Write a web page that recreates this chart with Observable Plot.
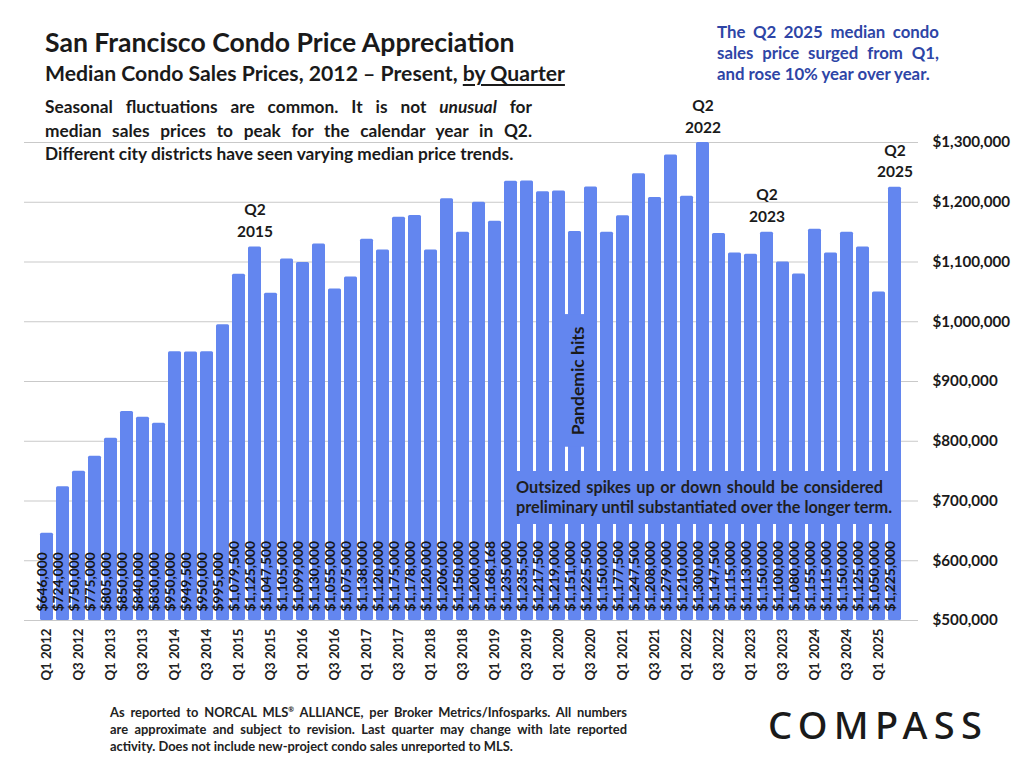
<!DOCTYPE html>
<html><head><meta charset="utf-8">
<script src="https://cdn.jsdelivr.net/npm/d3@7"></script>
<script src="https://cdn.jsdelivr.net/npm/@observablehq/plot@0.6"></script>
<style>
body{margin:0;background:#fff;font-family:Lato,"Open Sans",sans-serif;}
#wrap{position:relative;width:1024px;height:768px;overflow:hidden;background:#fff}
#wrap svg{position:absolute;left:0;top:0}
.abs{position:absolute;color:#1a1a1a;white-space:nowrap}
.jl{display:block;text-align:justify;text-align-last:justify}
.ll{display:block;text-align:left;white-space:nowrap}
#title{left:45px;top:26px;font-size:26.6px;font-weight:700}
#subtitle{left:45px;top:60px;font-size:21.2px;font-weight:700}
#subtitle u{text-decoration-thickness:1.5px;text-underline-offset:3px}
#para{left:45px;top:95px;width:487px;font-size:17.3px;font-weight:700;line-height:23.5px;white-space:normal}
#blue{left:717px;top:21px;width:222px;font-size:16.8px;font-weight:700;line-height:21px;color:#2e45a6;white-space:normal}
#foot{left:110px;top:701px;width:517px;font-size:12.9px;font-weight:700;line-height:17px;color:#222;white-space:normal}
#logo{left:768px;top:698px;font-size:38px;font-weight:500;letter-spacing:6.3px;color:#1a1a1a;font-family:"Noto Sans",Lato,sans-serif}
#spike{font-size:16.3px;font-weight:700;line-height:20px;color:#1f1f1f;box-sizing:border-box;padding:6px 18px 0 12px;white-space:normal}
</style></head><body><div id="wrap"></div><script>
const quarters = [
 "Q1 2012","Q2 2012","Q3 2012","Q4 2012","Q1 2013","Q2 2013","Q3 2013","Q4 2013",
 "Q1 2014","Q2 2014","Q3 2014","Q4 2014","Q1 2015","Q2 2015","Q3 2015","Q4 2015",
 "Q1 2016","Q2 2016","Q3 2016","Q4 2016","Q1 2017","Q2 2017","Q3 2017","Q4 2017",
 "Q1 2018","Q2 2018","Q3 2018","Q4 2018","Q1 2019","Q2 2019","Q3 2019","Q4 2019",
 "Q1 2020","Q2 2020","Q3 2020","Q4 2020","Q1 2021","Q2 2021","Q3 2021","Q4 2021",
 "Q1 2022","Q2 2022","Q3 2022","Q4 2022","Q1 2023","Q2 2023","Q3 2023","Q4 2023",
 "Q1 2024","Q2 2024","Q3 2024","Q4 2024","Q1 2025","Q2 2025"];
const prices = [
 646000,724000,750000,775000,805000,850000,840000,830000,
 950000,949500,950000,995000,1079500,1125000,1047500,1105000,
 1099000,1130000,1055000,1075000,1138000,1120000,1175000,1178000,
 1120000,1206000,1150000,1200000,1168168,1235000,1235500,1217500,
 1219000,1151000,1225500,1150000,1177500,1247500,1208000,1279000,
 1210000,1300000,1147500,1115000,1113000,1150000,1100000,1080000,
 1155000,1115000,1150000,1125000,1050000,1225000];
const yTicks = [500000,600000,700000,800000,900000,1000000,1100000,1200000,1300000];
const xTickLabels = quarters.filter(q => /^Q[13]/.test(q));
const highlightQuarters = ["Q2 2015","Q2 2022","Q2 2023","Q2 2025"];
const pandemicQuarter = "Q2 2020";
const pandemicRange = [790000, 1012000];
const pandemicText = "Pandemic hits";
const spikeStart = "Q2 2019", spikeEnd = "Q2 2025";
const spikeRange = [661000, 749000];

const BLUE = "#6386ef";
const yMin = yTicks[0], yMax = yTicks[yTicks.length-1];
const data = quarters.map((q,i) => ({q, v: prices[i]}));
const fmt = d3.format(",");
const highlights = data.filter(d => highlightQuarters.includes(d.q));

const chart = Plot.plot({
  width: 1024, height: 768,
  marginLeft: 24, marginRight: 106, marginTop: 142, marginBottom: 148,
  style: {fontFamily: "Lato, 'Open Sans', sans-serif", background: "white", color: "#1a1a1a", overflow: "visible"},
  x: {domain: quarters, padding: 0.18, axis: null},
  y: {domain: [yMin, yMax], axis: null},
  marks: [
    Plot.ruleY(yTicks, {stroke: "#c9c9c9", strokeWidth: 1}),
    Plot.barY(data, {x: "q", y1: () => yMin, y2: "v", fill: BLUE, rx: 1.5}),
    Plot.text(data, {x: "q", frameAnchor: "bottom", text: d => "$" + fmt(d.v), rotate: -90, textAnchor: "start", dy: -9, fontSize: 13.8, fontWeight: "bold", fill: "#161616"}),
    Plot.text(highlights, {x: "q", y: "v", text: d => d.q.replace(" ", "\n"), lineAnchor: "bottom", lineHeight: 1.4, dy: -10, fontSize: 15.5, fontWeight: "bold", fill: "#1a1a1a"}),
    Plot.barY([pandemicQuarter], {x: d => d, y1: () => pandemicRange[0], y2: () => pandemicRange[1], fill: BLUE, insetLeft: -3, insetRight: -3}),
    Plot.text([pandemicQuarter], {x: d => d, y: () => (pandemicRange[0]+pandemicRange[1])/2, text: () => pandemicText, rotate: -90, fontSize: 17.5, fontWeight: "bold", fill: "#1a1a1a", dx: 3}),
    Plot.axisX({ticks: xTickLabels, tickRotate: -90, tickSize: 0, tickPadding: 8, fontSize: 13.2, fontWeight: "bold", label: null, fill: "#222"}),
    Plot.axisY({anchor: "right", ticks: yTicks, tickSize: 0, tickPadding: 14, fontSize: 15.2, fontWeight: "bold", tickFormat: d => "$" + fmt(d), label: null, textAnchor: "start"})
  ]
});
const wrap = document.getElementById("wrap");
wrap.appendChild(chart);

function add(id, html){const d=document.createElement("div");d.id=id;d.className="abs";d.innerHTML=html;wrap.appendChild(d);return d;}
add("title","San Francisco Condo Price Appreciation");
add("subtitle","Median Condo Sales Prices, 2012 – Present, <u>by Quarter</u>");
add("para",'<span class="jl">Seasonal fluctuations are common. It is not <i>unusual</i> for</span><span class="jl">median sales prices to peak for the calendar year in Q2.</span><span class="ll">Different city districts have seen varying median price trends.</span>');
add("blue",'<span class="jl">The Q2 2025 median condo</span><span class="jl">sales price surged from Q1,</span><span class="ll">and rose 10% year over year.</span>');
add("foot",'<span class="jl">As reported to NORCAL MLS<sup style="font-size:7px">®</sup> ALLIANCE, per Broker Metrics/Infosparks. All numbers</span><span class="jl">are approximate and subject to revision. Last quarter may change with late reported</span><span class="ll">activity. Does not include new-project condo sales unreported to MLS.</span>');
add("logo","COMPASS");

const xs = chart.scale("x"), ys = chart.scale("y");
const boxLeft = xs.apply(spikeStart), boxRight = xs.apply(spikeEnd) + xs.bandwidth;
const boxTop = ys.apply(spikeRange[1]), boxBottom = ys.apply(spikeRange[0]);
const sp = add("spike",'<span class="jl">Outsized spikes up or down should be considered</span><span class="ll">preliminary until substantiated over the longer term.</span>');
sp.style.left = boxLeft + "px"; sp.style.top = boxTop + "px";
sp.style.width = (boxRight-boxLeft) + "px"; sp.style.height = (boxBottom-boxTop) + "px";
sp.style.background = BLUE;
</script></body></html>
